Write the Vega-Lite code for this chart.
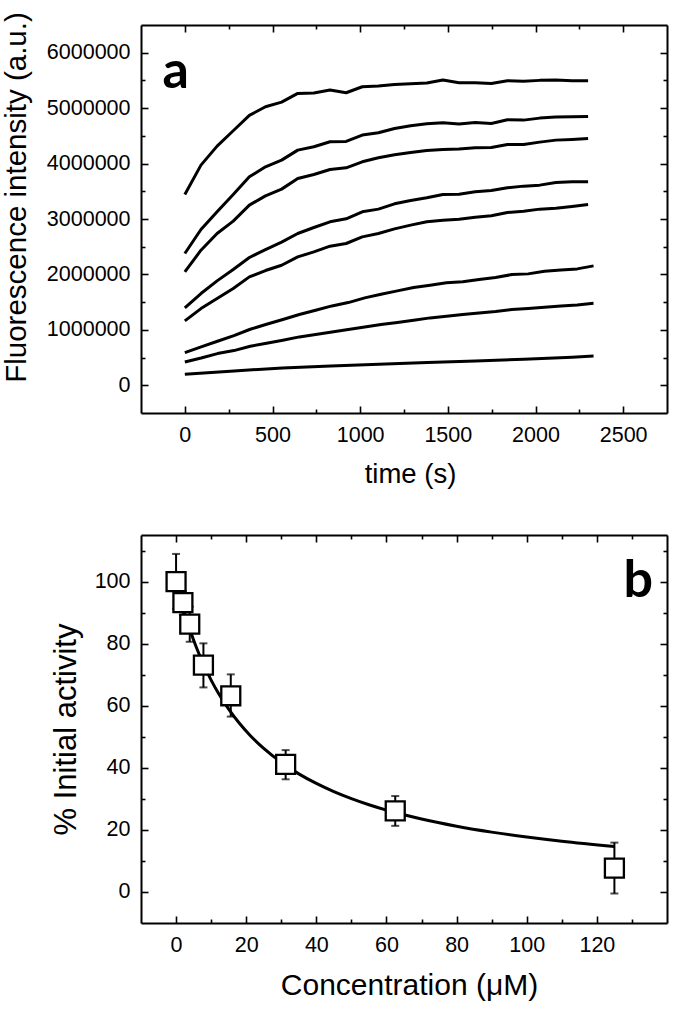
{
  "$schema": "https://vega.github.io/schema/vega-lite/v6.json",
  "autosize": {"type": "none"},
  "padding": {"left": 141, "top": 25, "right": 550, "bottom": 991},
  "background": "white",
  "config": {
    "view": {"stroke": null},
    "axis": {
      "grid": false,
      "domainColor": "black",
      "domainWidth": 2,
      "tickColor": "black",
      "tickWidth": 1.6,
      "labelFont": "Liberation Sans",
      "labelFontSize": 21.5,
      "labelColor": "black",
      "labelOverlap": false,
      "labelFlush": false,
      "titleFont": "Liberation Sans",
      "titleFontSize": 28,
      "titleFontWeight": "normal",
      "titleColor": "black"
    }
  },
  "datasets": {
    "kinetics": [
      {"s":1,"t":0,"f":3442000},{"s":1,"t":92,"f":3972000},{"s":1,"t":184,"f":4315000},{"s":1,"t":276,"f":4592000},{"s":1,"t":368,"f":4869000},{"s":1,"t":460,"f":5025000},{"s":1,"t":552,"f":5109000},{"s":1,"t":644,"f":5266000},{"s":1,"t":736,"f":5272000},{"s":1,"t":828,"f":5326000},{"s":1,"t":920,"f":5278000},{"s":1,"t":1012,"f":5386000},{"s":1,"t":1104,"f":5398000},{"s":1,"t":1196,"f":5428000},{"s":1,"t":1288,"f":5440000},{"s":1,"t":1380,"f":5452000},{"s":1,"t":1472,"f":5507000},{"s":1,"t":1564,"f":5458000},{"s":1,"t":1656,"f":5458000},{"s":1,"t":1748,"f":5446000},{"s":1,"t":1840,"f":5495000},{"s":1,"t":1932,"f":5483000},{"s":1,"t":2024,"f":5501000},{"s":1,"t":2116,"f":5507000},{"s":1,"t":2208,"f":5495000},{"s":1,"t":2300,"f":5495000},
      {"s":2,"t":0,"f":2377000},{"s":2,"t":92,"f":2810000},{"s":2,"t":184,"f":3129000},{"s":2,"t":276,"f":3442000},{"s":2,"t":368,"f":3761000},{"s":2,"t":460,"f":3942000},{"s":2,"t":552,"f":4062000},{"s":2,"t":644,"f":4243000},{"s":2,"t":736,"f":4303000},{"s":2,"t":828,"f":4393000},{"s":2,"t":920,"f":4399000},{"s":2,"t":1012,"f":4514000},{"s":2,"t":1104,"f":4556000},{"s":2,"t":1196,"f":4634000},{"s":2,"t":1288,"f":4682000},{"s":2,"t":1380,"f":4718000},{"s":2,"t":1472,"f":4736000},{"s":2,"t":1564,"f":4712000},{"s":2,"t":1656,"f":4742000},{"s":2,"t":1748,"f":4724000},{"s":2,"t":1840,"f":4790000},{"s":2,"t":1932,"f":4784000},{"s":2,"t":2024,"f":4820000},{"s":2,"t":2116,"f":4838000},{"s":2,"t":2208,"f":4845000},{"s":2,"t":2300,"f":4851000},
      {"s":3,"t":0,"f":2046000},{"s":3,"t":92,"f":2437000},{"s":3,"t":184,"f":2738000},{"s":3,"t":276,"f":2961000},{"s":3,"t":368,"f":3250000},{"s":3,"t":460,"f":3418000},{"s":3,"t":552,"f":3539000},{"s":3,"t":644,"f":3731000},{"s":3,"t":736,"f":3803000},{"s":3,"t":828,"f":3894000},{"s":3,"t":920,"f":3924000},{"s":3,"t":1012,"f":4032000},{"s":3,"t":1104,"f":4104000},{"s":3,"t":1196,"f":4158000},{"s":3,"t":1288,"f":4200000},{"s":3,"t":1380,"f":4237000},{"s":3,"t":1472,"f":4255000},{"s":3,"t":1564,"f":4261000},{"s":3,"t":1656,"f":4285000},{"s":3,"t":1748,"f":4291000},{"s":3,"t":1840,"f":4345000},{"s":3,"t":1932,"f":4345000},{"s":3,"t":2024,"f":4387000},{"s":3,"t":2116,"f":4423000},{"s":3,"t":2208,"f":4435000},{"s":3,"t":2300,"f":4453000},
      {"s":4,"t":0,"f":1396000},{"s":4,"t":92,"f":1655000},{"s":4,"t":184,"f":1884000},{"s":4,"t":276,"f":2088000},{"s":4,"t":368,"f":2305000},{"s":4,"t":460,"f":2449000},{"s":4,"t":552,"f":2582000},{"s":4,"t":644,"f":2738000},{"s":4,"t":736,"f":2847000},{"s":4,"t":828,"f":2949000},{"s":4,"t":920,"f":3003000},{"s":4,"t":1012,"f":3129000},{"s":4,"t":1104,"f":3178000},{"s":4,"t":1196,"f":3274000},{"s":4,"t":1288,"f":3334000},{"s":4,"t":1380,"f":3382000},{"s":4,"t":1472,"f":3442000},{"s":4,"t":1564,"f":3448000},{"s":4,"t":1656,"f":3490000},{"s":4,"t":1748,"f":3514000},{"s":4,"t":1840,"f":3563000},{"s":4,"t":1932,"f":3593000},{"s":4,"t":2024,"f":3611000},{"s":4,"t":2116,"f":3659000},{"s":4,"t":2208,"f":3671000},{"s":4,"t":2300,"f":3671000},
      {"s":5,"t":0,"f":1161000},{"s":5,"t":92,"f":1384000},{"s":5,"t":184,"f":1565000},{"s":5,"t":276,"f":1745000},{"s":5,"t":368,"f":1956000},{"s":5,"t":460,"f":2070000},{"s":5,"t":552,"f":2166000},{"s":5,"t":644,"f":2317000},{"s":5,"t":736,"f":2407000},{"s":5,"t":828,"f":2510000},{"s":5,"t":920,"f":2558000},{"s":5,"t":1012,"f":2678000},{"s":5,"t":1104,"f":2738000},{"s":5,"t":1196,"f":2822000},{"s":5,"t":1288,"f":2889000},{"s":5,"t":1380,"f":2949000},{"s":5,"t":1472,"f":2979000},{"s":5,"t":1564,"f":2997000},{"s":5,"t":1656,"f":3033000},{"s":5,"t":1748,"f":3057000},{"s":5,"t":1840,"f":3117000},{"s":5,"t":1932,"f":3141000},{"s":5,"t":2024,"f":3178000},{"s":5,"t":2116,"f":3196000},{"s":5,"t":2208,"f":3226000},{"s":5,"t":2300,"f":3262000},
      {"s":6,"t":0,"f":590000},{"s":6,"t":93,"f":692000},{"s":6,"t":186,"f":794000},{"s":6,"t":280,"f":897000},{"s":6,"t":373,"f":1011000},{"s":6,"t":466,"f":1101000},{"s":6,"t":559,"f":1186000},{"s":6,"t":653,"f":1276000},{"s":6,"t":746,"f":1354000},{"s":6,"t":839,"f":1432000},{"s":6,"t":932,"f":1492000},{"s":6,"t":1026,"f":1577000},{"s":6,"t":1119,"f":1643000},{"s":6,"t":1212,"f":1703000},{"s":6,"t":1305,"f":1763000},{"s":6,"t":1399,"f":1805000},{"s":6,"t":1492,"f":1848000},{"s":6,"t":1585,"f":1866000},{"s":6,"t":1678,"f":1908000},{"s":6,"t":1772,"f":1944000},{"s":6,"t":1865,"f":1998000},{"s":6,"t":1958,"f":2010000},{"s":6,"t":2051,"f":2058000},{"s":6,"t":2145,"f":2082000},{"s":6,"t":2238,"f":2100000},{"s":6,"t":2331,"f":2154000},
      {"s":7,"t":0,"f":421000},{"s":7,"t":93,"f":493000},{"s":7,"t":186,"f":572000},{"s":7,"t":280,"f":626000},{"s":7,"t":373,"f":704000},{"s":7,"t":466,"f":758000},{"s":7,"t":559,"f":812000},{"s":7,"t":653,"f":873000},{"s":7,"t":746,"f":915000},{"s":7,"t":839,"f":963000},{"s":7,"t":932,"f":1005000},{"s":7,"t":1026,"f":1053000},{"s":7,"t":1119,"f":1095000},{"s":7,"t":1212,"f":1131000},{"s":7,"t":1305,"f":1173000},{"s":7,"t":1399,"f":1216000},{"s":7,"t":1492,"f":1246000},{"s":7,"t":1585,"f":1276000},{"s":7,"t":1678,"f":1306000},{"s":7,"t":1772,"f":1330000},{"s":7,"t":1865,"f":1366000},{"s":7,"t":1958,"f":1384000},{"s":7,"t":2051,"f":1408000},{"s":7,"t":2145,"f":1432000},{"s":7,"t":2238,"f":1450000},{"s":7,"t":2331,"f":1480000},
      {"s":8,"t":0,"f":199000},{"s":8,"t":281,"f":259000},{"s":8,"t":557,"f":313000},{"s":8,"t":832,"f":349000},{"s":8,"t":1107,"f":379000},{"s":8,"t":1383,"f":409000},{"s":8,"t":1658,"f":439000},{"s":8,"t":1934,"f":469000},{"s":8,"t":2209,"f":506000},{"s":8,"t":2331,"f":530000}
    ],
    "activity": [
      {"c":0,"y":100,"lo":91.2,"hi":108.9},
      {"c":1.95,"y":93.2,"lo":89.2,"hi":96.8},
      {"c":3.9,"y":86.3,"lo":80.6,"hi":91.9},
      {"c":7.8,"y":73.1,"lo":65.9,"hi":80.1},
      {"c":15.6,"y":63.2,"lo":56.5,"hi":70.1},
      {"c":31.25,"y":41.1,"lo":36.3,"hi":45.7},
      {"c":62.5,"y":26.1,"lo":21.3,"hi":30.9},
      {"c":125,"y":7.7,"lo":-0.5,"hi":15.9}
    ],
    "fit": [
      {"c":0,"y":100},{"c":2,"y":91.49},{"c":4,"y":84.31},{"c":6,"y":78.18},{"c":8,"y":72.88},{"c":10,"y":68.25},{"c":12,"y":64.18},{"c":15,"y":58.9},{"c":18,"y":54.43},{"c":21,"y":50.59},{"c":25,"y":46.24},{"c":30,"y":41.75},{"c":35,"y":38.05},{"c":40,"y":34.96},{"c":45,"y":32.33},{"c":50,"y":30.07},{"c":55,"y":28.1},{"c":60,"y":26.38},{"c":65,"y":24.86},{"c":70,"y":23.5},{"c":80,"y":21.18},{"c":90,"y":19.28},{"c":100,"y":17.7},{"c":110,"y":16.35},{"c":125,"y":14.68}
    ]
  },
  "spacing": 122,
  "bounds": "flush",
  "vconcat": [
    {
      "width": 526,
      "height": 388,
      "layer": [
        {
          "data": {"name": "kinetics"},
          "mark": {"type": "line", "color": "black", "strokeWidth": 3, "strokeJoin": "round"},
          "encoding": {
            "x": {"field": "t", "type": "quantitative",
              "scale": {"domain": [-250, 2750], "nice": false, "zero": false},
              "axis": {"orient": "bottom", "title": "time (s)", "format": "d",
                "values": [0,250,500,750,1000,1250,1500,1750,2000,2250,2500],
                "labelExpr": "datum.value % 500 === 0 ? datum.label : ''",
                "tickSize": {"condition": {"test": "datum.value % 500 === 0", "value": -7}, "value": -4},
                "labelPadding": 18, "titlePadding": 12, "titleFontSize": 27.5, "titleX": 269}},
            "y": {"field": "f", "type": "quantitative",
              "scale": {"domain": [-500000, 6500000], "nice": false, "zero": false},
              "axis": {"orient": "left", "title": "Fluorescence intensity (a.u.)", "format": "d",
                "values": [0,500000,1000000,1500000,2000000,2500000,3000000,3500000,4000000,4500000,5000000,5500000,6000000],
                "labelExpr": "datum.value % 1000000 === 0 ? datum.label : ''",
                "tickSize": {"condition": {"test": "datum.value % 1000000 === 0", "value": -7}, "value": -4},
                "labelPadding": 18, "titleFontSize": 29.5, "titleX": -110, "titleY": 172, "titleBaseline": "bottom", "titleAngle": -90}},
            "detail": {"field": "s", "type": "nominal"}
          }
        },
        {
          "data": {"values": [{"x": -128, "y": 5365000, "label": "a"}]},
          "mark": {"type": "text", "font": "Lato", "fontWeight": "bold", "fontSize": 52, "align": "left", "baseline": "alphabetic", "color": "black"},
          "encoding": {
            "x": {"field": "x", "type": "quantitative",
              "scale": {"domain": [-250, 2750], "nice": false, "zero": false},
              "axis": {"orient": "top", "title": null, "labels": false,
                "values": [0,250,500,750,1000,1250,1500,1750,2000,2250,2500],
                "tickSize": {"condition": {"test": "datum.value % 500 === 0", "value": -7}, "value": -4}}},
            "y": {"field": "y", "type": "quantitative",
              "scale": {"domain": [-500000, 6500000], "nice": false, "zero": false},
              "axis": {"orient": "right", "title": null, "labels": false,
                "values": [0,500000,1000000,1500000,2000000,2500000,3000000,3500000,4000000,4500000,5000000,5500000,6000000],
                "tickSize": {"condition": {"test": "datum.value % 1000000 === 0", "value": -7}, "value": -4}}},
            "text": {"field": "label"}
          }
        }
      ],
      "resolve": {"axis": {"x": "independent", "y": "independent"}}
    },
    {
      "width": 526,
      "height": 388,
      "layer": [
        {
          "data": {"name": "activity"},
          "mark": {"type": "rule", "color": "black", "strokeWidth": 2},
          "encoding": {
            "x": {"field": "c", "type": "quantitative",
              "scale": {"domain": [-10, 140], "nice": false, "zero": false},
              "axis": {"orient": "bottom", "title": "Concentration (μM)", "format": "d",
                "values": [0,10,20,30,40,50,60,70,80,90,100,110,120,130],
                "labelExpr": "datum.value % 20 === 0 ? datum.label : ''",
                "tickSize": {"condition": {"test": "datum.value % 20 === 0", "value": -7}, "value": -4},
                "labelPadding": 18, "titlePadding": 12, "titleFontSize": 30, "titleX": 268}},
            "y": {"field": "lo", "type": "quantitative",
              "scale": {"domain": [-10, 115], "nice": false, "zero": false},
              "axis": {"orient": "left", "title": "% Initial activity", "format": "d",
                "values": [0,10,20,30,40,50,60,70,80,90,100,110],
                "labelExpr": "datum.value % 20 === 0 ? datum.label : ''",
                "tickSize": {"condition": {"test": "datum.value % 20 === 0", "value": -7}, "value": -4},
                "labelPadding": 18, "titlePadding": 12, "titleFontSize": 31}},
            "y2": {"field": "hi"}
          }
        },
        {
          "data": {"name": "activity"},
          "mark": {"type": "tick", "color": "black", "orient": "horizontal", "size": 8, "thickness": 2},
          "encoding": {
            "x": {"field": "c", "type": "quantitative", "scale": {"domain": [-10, 140], "nice": false, "zero": false}, "axis": null},
            "y": {"field": "hi", "type": "quantitative", "scale": {"domain": [-10, 115], "nice": false, "zero": false}, "axis": null}
          }
        },
        {
          "data": {"name": "activity"},
          "mark": {"type": "tick", "color": "black", "orient": "horizontal", "size": 8, "thickness": 2},
          "encoding": {
            "x": {"field": "c", "type": "quantitative", "scale": {"domain": [-10, 140], "nice": false, "zero": false}, "axis": null},
            "y": {"field": "lo", "type": "quantitative", "scale": {"domain": [-10, 115], "nice": false, "zero": false}, "axis": null}
          }
        },
        {
          "data": {"name": "fit"},
          "mark": {"type": "line", "color": "black", "strokeWidth": 3, "interpolate": "monotone"},
          "encoding": {
            "x": {"field": "c", "type": "quantitative", "scale": {"domain": [-10, 140], "nice": false, "zero": false}, "axis": null},
            "y": {"field": "y", "type": "quantitative", "scale": {"domain": [-10, 115], "nice": false, "zero": false}, "axis": null}
          }
        },
        {
          "data": {"name": "activity"},
          "mark": {"type": "point", "shape": "square", "size": 360, "filled": false, "fill": "white", "fillOpacity": 1, "stroke": "black", "strokeWidth": 2.3, "opacity": 1},
          "encoding": {
            "x": {"field": "c", "type": "quantitative",
              "scale": {"domain": [-10, 140], "nice": false, "zero": false},
              "axis": {"orient": "top", "title": null, "labels": false,
                "values": [0,10,20,30,40,50,60,70,80,90,100,110,120,130],
                "tickSize": {"condition": {"test": "datum.value % 20 === 0", "value": -7}, "value": -4}}},
            "y": {"field": "y", "type": "quantitative",
              "scale": {"domain": [-10, 115], "nice": false, "zero": false},
              "axis": {"orient": "right", "title": null, "labels": false,
                "values": [0,10,20,30,40,50,60,70,80,90,100,110],
                "tickSize": {"condition": {"test": "datum.value % 20 === 0", "value": -7}, "value": -4}}}
          }
        },
        {
          "data": {"values": [{"x": 127.6, "y": 95, "label": "b"}]},
          "mark": {"type": "text", "font": "Lato", "fontWeight": "bold", "fontSize": 52, "align": "left", "baseline": "alphabetic", "color": "black"},
          "encoding": {
            "x": {"field": "x", "type": "quantitative", "scale": {"domain": [-10, 140], "nice": false, "zero": false}, "axis": null},
            "y": {"field": "y", "type": "quantitative", "scale": {"domain": [-10, 115], "nice": false, "zero": false}, "axis": null},
            "text": {"field": "label"}
          }
        }
      ],
      "resolve": {"axis": {"x": "independent", "y": "independent"}}
    }
  ]
}
